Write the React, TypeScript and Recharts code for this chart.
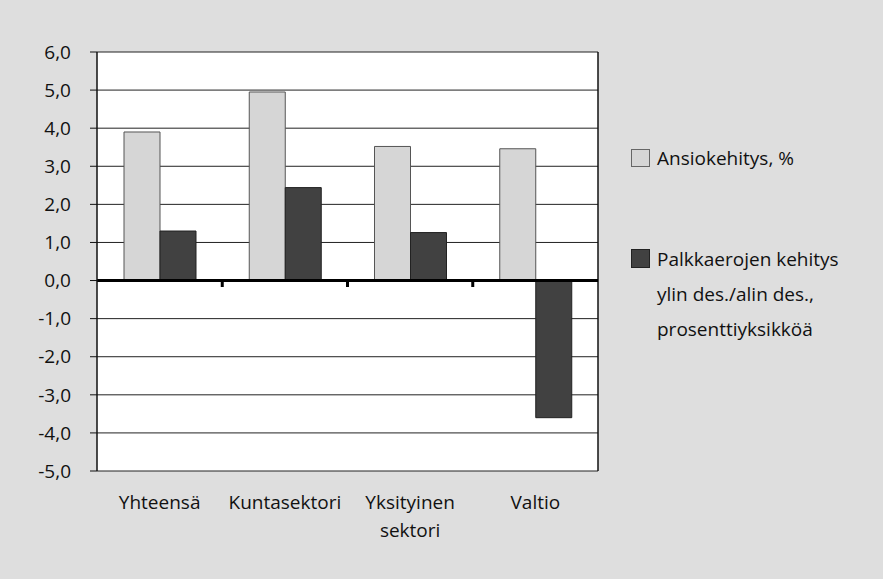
import React from "react";
import {
  BarChart,
  Bar,
  XAxis,
  YAxis,
  CartesianGrid,
  ReferenceLine,
} from "recharts";

const categories = ["Yhteensä", "Kuntasektori", "Yksityinen\nsektori", "Valtio"];
const ansiokehitys = [3.9, 4.95, 3.52, 3.46];
const palkkaerot = [1.3, 2.44, 1.26, -3.6];
const yTicks = [-5, -4, -3, -2, -1, 0, 1, 2, 3, 4, 5, 6];
const seriesNames = ["Ansiokehitys, %", "Palkkaerojen kehitys\nylin des./alin des.,\nprosenttiyksikköä"];
const boundaries = [1, 2, 3];

const data = categories.map((c, i) => ({
  name: c,
  pos: i + 0.5,
  a: ansiokehitys[i],
  p: palkkaerot[i],
}));

const FONT = "'Open Sans', sans-serif";
const FS = 19;
const LIGHT = "#d6d6d6";
const DARK = "#414141";

const CatTick = (props: any) => {
  const { x, y, payload } = props;
  const lines = String(payload.value).split("\n");
  return (
    <text x={x} y={y + 30} textAnchor="middle" fontFamily={FONT} fontSize={FS} fill="#111">
      {lines.map((l, i) => (
        <tspan key={i} x={x} dy={i === 0 ? 0 : 28}>
          {l}
        </tspan>
      ))}
    </text>
  );
};

const LegendBox = () => (
  <div style={{ position: "absolute", left: 631, top: 145, fontFamily: FONT, fontSize: FS, color: "#111" }}>
    <div style={{ position: "absolute", left: 0, top: 0, display: "flex", alignItems: "center", height: 26 }}>
      <div style={{ width: 17, height: 16, background: LIGHT, border: "1px solid #666", marginRight: 7 }} />
      <span style={{ whiteSpace: "nowrap" }}>{seriesNames[0]}</span>
    </div>
    <div style={{ position: "absolute", left: 0, top: 96 }}>
      {seriesNames[1].split("\n").map((l, i) => (
        <div key={i} style={{ display: "flex", alignItems: "center", height: 35 }}>
          {i === 0 ? (
            <div style={{ width: 17, height: 17, background: DARK, border: "1px solid #222", marginRight: 7 }} />
          ) : (
            <div style={{ width: 19, marginRight: 7 }} />
          )}
          <span style={{ whiteSpace: "nowrap" }}>{l}</span>
        </div>
      ))}
    </div>
  </div>
);

export default function App() {
  return (
    <div style={{ position: "absolute", left: 0, top: 0, width: 883, height: 579, background: "#dedede" }}>
      <BarChart
        width={883}
        height={579}
        data={data}
        margin={{ top: 52, right: 285, bottom: 48, left: 37 }}
        barGap={0}
        barSize={36}
      >
        <CartesianGrid vertical={false} stroke="#222" strokeWidth={1} fill="#ffffff" fillOpacity={1} />
        <XAxis
          dataKey="name"
          xAxisId="c"
          axisLine={false}
          tickLine={false}
          height={60}
          tick={<CatTick />}
          interval={0}
        />
        <XAxis
          xAxisId="n"
          dataKey="pos"
          type="number"
          domain={[0, 4]}
          allowDataOverflow={true}
          ticks={[0, 1, 2, 3, 4]}
          height={0}
          hide
        />
        <YAxis
          type="number"
          domain={[-5, 6]}
          ticks={yTicks}
          interval={0}
          width={60}
          axisLine={{ stroke: "#111", strokeWidth: 1.5 }}
          tickLine={{ stroke: "#111" }}
          tickSize={7}
          tickMargin={19}
          tickFormatter={(v: number) => v.toFixed(1).replace(".", ",")}
          tick={{ fontFamily: FONT, fontSize: FS, fill: "#111" }}
        />
        <Bar xAxisId="c" dataKey="a" fill={LIGHT} stroke="#555" strokeWidth={1} isAnimationActive={false} />
        <Bar xAxisId="c" dataKey="p" fill={DARK} stroke="#222" strokeWidth={1} isAnimationActive={false} />
        <ReferenceLine xAxisId="n" x={4} stroke="#111" strokeWidth={1.5} />
        <ReferenceLine xAxisId="n" y={0} stroke="#000" strokeWidth={3} />
        {boundaries.map((b) => (
          <ReferenceLine
            key={b}
            xAxisId="n"
            segment={[
              { x: b, y: 0 },
              { x: b, y: -0.17 },
            ]}
            stroke="#000"
            strokeWidth={3}
          />
        ))}
      </BarChart>
      <LegendBox />
    </div>
  );
}
